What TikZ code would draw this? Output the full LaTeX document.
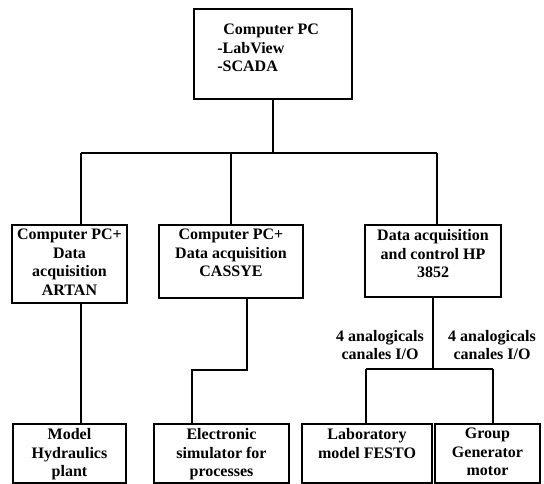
\documentclass[tikz,border=0pt]{standalone}
\usepackage{fontspec}
\setmainfont{Liberation Serif}
\usepackage{tikz}
\usetikzlibrary{positioning,calc}

\tikzset{
  box/.style={draw, line width=1.6pt, inner sep=0pt},
  boxtext/.style={anchor=north, align=center, inner sep=0pt, yshift=-5pt},
  wire/.style={line width=1.6pt},
}

\begin{document}
\begin{tikzpicture}[x=1pt, y=-1pt, font=\fontsize{16}{18.5}\selectfont\bfseries]
    \useasboundingbox (0,0) rectangle (544,484);
    % boxes
    \node[box, minimum width=158pt, minimum height=90pt] (pc) at (273,54) {};
    \node[box, minimum width=115pt, minimum height=78pt] (artan) at (69.5,264) {};
    \node[box, minimum width=144pt, minimum height=73pt] (cassy) at (231,261.5) {};
    \node[box, minimum width=136pt, minimum height=72pt] (hp) at (433,261) {};
    \node[box, minimum width=113pt, minimum height=59pt] (hydro) at (69.5,453.5) {};
    \node[box, minimum width=135pt, minimum height=59pt] (sim) at (221.5,453.5) {};
    \node[box, minimum width=130pt, minimum height=59pt] (festo) at (367,453.5) {};
    \node[box, minimum width=105pt, minimum height=59pt] (motor) at (487.5,453.5) {};
    % texts
    \node[anchor=north west, align=left, inner sep=0pt] (pctext) at ($(pc.north west)+(24,16)$) {\hspace{6pt}Computer PC\\-LabView\\-SCADA};
    \node[boxtext] (artantext) at (artan.north) {Computer PC+\\Data\\acquisition\\ARTAN};
    \node[boxtext] (cassytext) at (cassy.north) {Computer PC+\\Data acquisition\\CASSYE};
    \node[boxtext] (hptext) at (hp.north) {Data acquisition\\and control HP\\3852};
    \node[boxtext] (hydrotext) at (hydro.north) {Model\\Hydraulics\\plant};
    \node[boxtext] (simtext) at (sim.north) {Electronic\\simulator for\\processes};
    \node[boxtext] (festotext) at (festo.north) {Laboratory\\model FESTO};
    \node[boxtext] (motortext) at (motor.north) {Group\\Generator\\motor};
    \node[align=center, inner sep=0pt] (chanA) at (380,345) {4 analogicals\\canales I/O};
    \node[align=center, inner sep=0pt] (chanB) at (492,345) {4 analogicals\\canales I/O};
    % bus lines
    \coordinate (busL) at (81,153);
    \coordinate (busM) at (231,153);
    \coordinate (busR) at (437,153);
    \coordinate (kink) at (192,370);
    \coordinate (busF) at (366,369);
    \coordinate (busG) at (493,369);
    \draw[wire] (pc.south) -- (pc.south |- busL);
    \draw[wire] (busL) -- (busR);
    \draw[wire] (busL) -- (busL |- artan.north);
    \draw[wire] (busM) -- (busM |- cassy.north);
    \draw[wire] (busR) -- (busR |- hp.north);
    \draw[wire] (busL |- artan.south) -- (busL |- hydro.north);
    \draw[wire] ($(cassy.south)+(16,0)$) |- (kink) -- (kink |- sim.north);
    \draw[wire] (hp.south) -- (hp.south |- busF);
    \draw[wire] (busF) -- (busG);
    \draw[wire] (busF) -- (busF |- festo.north);
    \draw[wire] (busG) -- (busG |- motor.north);
\end{tikzpicture}
\end{document}
